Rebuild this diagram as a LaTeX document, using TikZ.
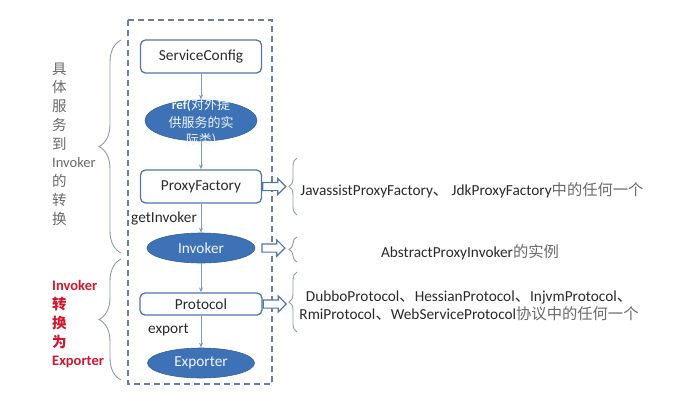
\documentclass[tikz,border=0pt]{standalone}
\usepackage{fontspec}
\setmainfont{Carlito}
\newfontfamily\cjk{Noto Sans CJK SC}
\usetikzlibrary{shapes.geometric,shapes.arrows,decorations.pathreplacing,arrows.meta}
\definecolor{boxblue}{HTML}{4F78A8}
\definecolor{ellfill}{HTML}{3E72B6}
\definecolor{dashc}{HTML}{6A7E98}
\definecolor{bracec}{HTML}{8A9CB4}
\definecolor{txtdark}{HTML}{2A2A2A}
\definecolor{txtgray}{HTML}{6A6A6A}
\definecolor{redt}{HTML}{D0182E}
\definecolor{linkc}{HTML}{7F9BC0}
\begin{document}
\begin{tikzpicture}[x=1pt,y=-1pt,
  fnt/.style={font=\fontsize{15.3}{18}\selectfont},
  box/.style={draw=boxblue, line width=1.3pt, rounded corners=5pt, fill=white, inner sep=0pt, fnt, text=txtdark},
  ellip/.style={ellipse, fill=ellfill, draw=ellfill!85!black, line width=0.6pt, inner sep=0pt},
  elltext/.style={text=white!92!ellfill, fnt, align=center, inner sep=0pt},
  link/.style={draw=linkc, line width=0.9pt, -{Stealth[length=5pt,width=4pt]}},
  hollow/.style={single arrow, draw=boxblue, line width=1.2pt, fill=white, inner sep=3.5pt, minimum height=23pt, single arrow head extend=4pt, anchor=west},
  brc/.style={draw=bracec, line width=0.9pt, decorate},
  lbl/.style={fnt, text=txtdark, inner sep=0pt},
]
\useasboundingbox (0,0) rectangle (678,400);
\fill[white] (0,0) rectangle (678,400);

% dashed frame
\draw[dashc, line width=1.4pt, dash pattern=on 6pt off 4pt] (128,20) rectangle (272,384);

% main chain
\node[box, minimum width=121pt, minimum height=33pt] (sc) at (201,56.5) {ServiceConfig};
\node[ellip, minimum width=112pt, minimum height=41pt] (ref) at (201,120.5) {};
\node[elltext, font=\fontsize{13}{17.5}\selectfont] (reft) at (201,123) {\textbf{ref(}{\cjk 对外提}\\{\cjk 供服务的实}\\{\cjk 际类)}};
\node[box, minimum width=121pt, minimum height=33pt] (pf) at (201,186.5) {ProxyFactory};
\node[ellip, minimum width=108pt, minimum height=30pt] (inv) at (201,248) {};
\node[elltext] (invt) at (inv) {Invoker};
\node[box, minimum width=122pt, minimum height=22pt] (pr) at (201,304) {Protocol};
\node[ellip, minimum width=107pt, minimum height=30pt] (exp) at (201,363) {};
\node[elltext] (expt) at (exp) {Exporter};

\draw[link] (sc.south) -- (ref.north);
\draw[link] (ref.south) -- (pf.north);
\draw[link] (pf.south) -- (inv.north);
\draw[link] (inv.south) -- (pr.north);
\draw[link] (pr.south) -- (exp.north);

\node[lbl, anchor=west] (gi) at (131,218) {getInvoker};
\node[lbl, anchor=west] (ex) at (148,330) {export};

% hollow arrows
\node[hollow] (h1) at (pf.east) {};
\node[hollow] (h2) at ([xshift=6pt]inv.east) {};
\node[hollow] (h3) at (pr.east) {};

% right braces
\draw[brc, decoration={brace, amplitude=8pt}] (297,215) -- (297,158);
\draw[brc, decoration={brace, amplitude=8pt}] (297,262) -- (297,237);
\draw[brc, decoration={brace, amplitude=8pt}] (297,332) -- (297,272);

% left braces
\draw[brc, decoration={brace, amplitude=22pt}] (121,253) -- (121,40);
\draw[brc, decoration={brace, amplitude=22pt}] (121,380) -- (121,259);

% right texts
\node[lbl] (t1) at (472,190) {JavassistProxyFactory{\cjk 、} JdkProxyFactory{\cjk\color{txtgray}中的任何一个}};
\node[lbl] (t2) at (470,252) {AbstractProxyInvoker{\cjk\color{txtgray}的实例}};
\node[lbl, align=center] (t3) at (469,306) {DubboProtocol{\cjk 、}HessianProtocol{\cjk 、}InjvmProtocol{\cjk 、}\\RmiProtocol{\cjk 、}WebServiceProtocol{\cjk\color{txtgray}协议中的任何一个}};

% left texts
\node[font=\fontsize{14.5}{18.75}\selectfont\cjk, text=txtgray, align=left, anchor=north west, inner sep=0pt] (lt1) at (52,62.5) {具\\体\\服\\务\\到\\{\rmfamily Invoker}\\的\\转\\换};
\node[font=\fontsize{14.5}{18.75}\selectfont\cjk\bfseries, text=redt, align=left, anchor=north west, inner sep=0pt] (lt2) at (52,280.5) {{\rmfamily Invoker}\\转\\换\\为\\{\rmfamily Exporter}};
\end{tikzpicture}
\end{document}
